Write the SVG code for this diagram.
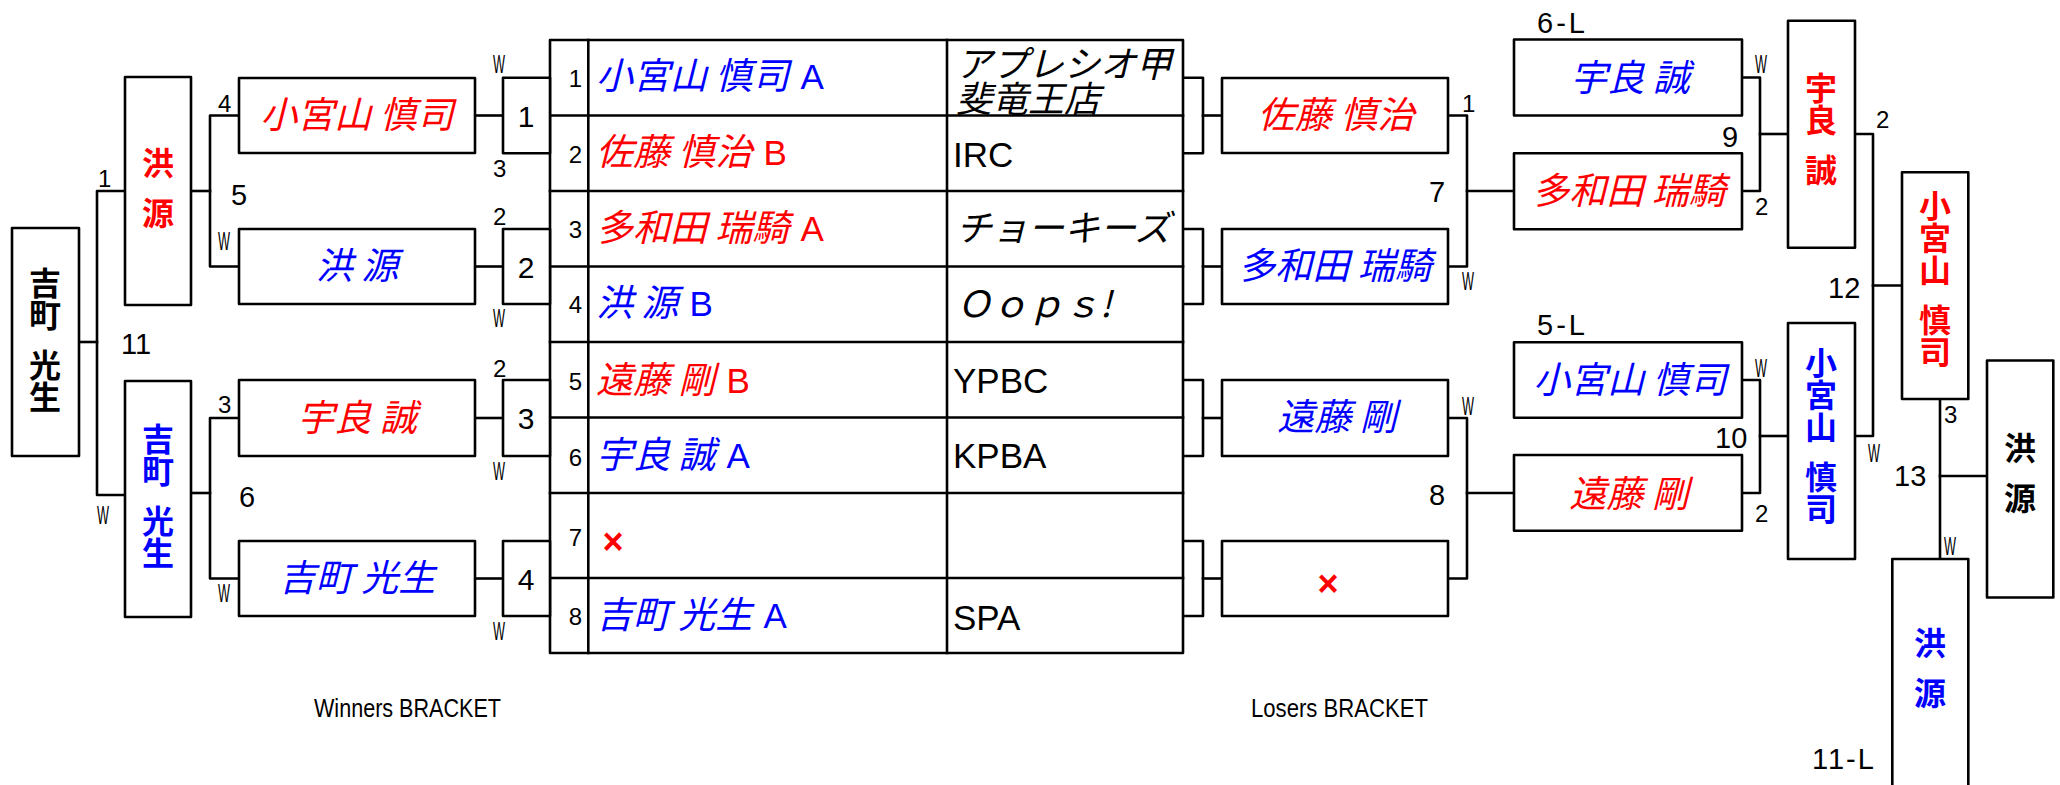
<svg xmlns="http://www.w3.org/2000/svg" width="2060" height="785" viewBox="0 0 2060 785">
<style>
.ln{stroke:#000;stroke-width:2.6;fill:none;stroke-linecap:square;stroke-linejoin:round}
.bx{fill:#fff;stroke:#000;stroke-width:2.6;stroke-linejoin:round}
.nm{font-family:"Noto Sans CJK JP",sans-serif;font-size:37px;font-style:italic;text-anchor:middle}
.tn{font-family:"Noto Sans CJK JP",sans-serif;font-size:37px;font-style:italic}
.lt{font-family:"Liberation Sans",Arial,sans-serif;font-style:normal;font-size:35px}
.tm{font-family:"Liberation Sans",Arial,sans-serif;font-size:35px;fill:#000}
.tj{font-family:"Noto Sans CJK JP",sans-serif;font-size:36px;font-style:italic;fill:#000}
.vt{font-family:"Noto Sans CJK JP",sans-serif;font-weight:bold;font-size:32px;writing-mode:vertical-rl;text-anchor:middle}
.sp{letter-spacing:11px}
.n{font-family:"Liberation Sans",Arial,sans-serif;font-size:24px;fill:#000}
.rn{font-family:"Liberation Sans",Arial,sans-serif;font-size:29px;fill:#000}
.bn{font-family:"Liberation Sans",Arial,sans-serif;font-size:30px;fill:#000;text-anchor:middle}
.w{font-family:"Liberation Sans Narrow","Liberation Sans",sans-serif;font-size:25px;fill:#000}
.cap{font-family:"Liberation Sans Narrow","Liberation Sans",sans-serif;font-size:26px;fill:#000}
.x{font-family:"Liberation Sans",Arial,sans-serif;font-size:36px;font-weight:bold;fill:#f00;text-anchor:middle}
.red{fill:#f00}
.blue{fill:#00f}
.blk{fill:#000}
</style>

<g id="connectors">
  <polyline class="ln" points="79,342 97,342"/>
  <polyline class="ln" points="125,191 97,191 97,495 125,495"/>
  <polyline class="ln" points="191,191 210,191"/>
  <polyline class="ln" points="239,115.5 210,115.5 210,266.5 239,266.5"/>
  <polyline class="ln" points="191,493 210,493"/>
  <polyline class="ln" points="239,418 210,418 210,578.5 239,578.5"/>
  <polyline class="ln" points="475,115.5 503,115.5"/>
  <polyline class="ln" points="475,266.5 503,266.5"/>
  <polyline class="ln" points="475,418 503,418"/>
  <polyline class="ln" points="475,578.5 503,578.5"/>
  <polyline class="ln" points="1183,77.7 1203,77.7 1203,153.3 1183,153.3"/>
  <polyline class="ln" points="1183,229 1203,229 1203,304 1183,304"/>
  <polyline class="ln" points="1183,380 1203,380 1203,456 1183,456"/>
  <polyline class="ln" points="1183,541 1203,541 1203,616 1183,616"/>
  <polyline class="ln" points="1203,115.5 1222,115.5"/>
  <polyline class="ln" points="1203,266.5 1222,266.5"/>
  <polyline class="ln" points="1203,418 1222,418"/>
  <polyline class="ln" points="1203,578.5 1222,578.5"/>
  <polyline class="ln" points="1448,115.5 1467,115.5 1467,266.5 1448,266.5"/>
  <polyline class="ln" points="1467,191 1514,191"/>
  <polyline class="ln" points="1448,418 1467,418 1467,578.5 1448,578.5"/>
  <polyline class="ln" points="1467,493 1514,493"/>
  <polyline class="ln" points="1742,77.5 1760,77.5 1760,191 1742,191"/>
  <polyline class="ln" points="1760,134 1788,134"/>
  <polyline class="ln" points="1742,380 1760,380 1760,493 1742,493"/>
  <polyline class="ln" points="1760,436 1788,436"/>
  <polyline class="ln" points="1855,134 1873,134 1873,436 1855,436"/>
  <polyline class="ln" points="1873,285.5 1902,285.5"/>
  <polyline class="ln" points="1940,399 1940,559"/>
  <polyline class="ln" points="1940,476 1987,476"/>
</g>

<g id="table">
  <rect class="bx" x="550" y="40" width="633" height="613"/>
  <line class="ln" x1="588.3" y1="40" x2="588.3" y2="653"/>
  <line class="ln" x1="947" y1="40" x2="947" y2="653"/>
  <line class="ln" x1="550" y1="115.5" x2="1183" y2="115.5"/>
  <line class="ln" x1="550" y1="191" x2="1183" y2="191"/>
  <line class="ln" x1="550" y1="266.5" x2="1183" y2="266.5"/>
  <line class="ln" x1="550" y1="342" x2="1183" y2="342"/>
  <line class="ln" x1="550" y1="417.5" x2="1183" y2="417.5"/>
  <line class="ln" x1="550" y1="493" x2="1183" y2="493"/>
  <line class="ln" x1="550" y1="578" x2="1183" y2="578"/>
  <g class="n" text-anchor="end">
    <text x="582" y="87">1</text>
    <text x="582" y="163">2</text>
    <text x="582" y="238">3</text>
    <text x="582" y="313">4</text>
    <text x="582" y="390">5</text>
    <text x="582" y="466">6</text>
    <text x="582" y="546">7</text>
    <text x="582" y="625">8</text>
  </g>
  <text class="tn blue" x="596" y="89">小宮山 慎司 <tspan class="lt" dx="3">A</tspan></text>
  <text class="tn red" x="596" y="165">佐藤 慎治 <tspan class="lt" dx="3">B</tspan></text>
  <text class="tn red" x="596" y="241">多和田 瑞騎 <tspan class="lt" dx="3">A</tspan></text>
  <text class="tn blue" x="596" y="316">洪 源 <tspan class="lt" dx="3">B</tspan></text>
  <text class="tn red" x="596" y="393">遠藤 剛 <tspan class="lt" dx="3">B</tspan></text>
  <text class="tn blue" x="596" y="468">宇良 誠 <tspan class="lt" dx="3">A</tspan></text>
  <text class="x" x="613" y="554">×</text>
  <text class="tn blue" x="596" y="628">吉町 光生 <tspan class="lt" dx="3">A</tspan></text>
  <text class="tj" x="956"><tspan x="956" y="77">アプレシオ甲</tspan><tspan x="956" y="112">斐竜王店</tspan></text>
  <text class="tm" x="953" y="167">IRC</text>
  <text class="tj" x="956" y="241">チョーキーズ</text>
  <text class="tj" x="956" y="317">Ｏｏｐｓ!</text>
  <text class="tm" x="953" y="393">YPBC</text>
  <text class="tm" x="953" y="468">KPBA</text>
  <text class="tm" x="953" y="630">SPA</text>
</g>

<g id="w-final">
  <rect class="bx" x="12" y="228" width="67" height="228"/>
  <text class="vt blk" x="45" y="340">吉町<tspan class="sp"> </tspan>光生</text>
</g>
<g id="w-semi-1">
  <rect class="bx" x="125" y="77" width="66" height="228"/>
  <text class="vt red" x="158" y="188">洪<tspan class="sp"> </tspan>源</text>
</g>
<g id="w-semi-2">
  <rect class="bx" x="125" y="381" width="66" height="236"/>
  <text class="vt blue" x="158" y="496">吉町<tspan class="sp"> </tspan>光生</text>
</g>
<g id="w-r1-1">
  <rect class="bx" x="239" y="78" width="236" height="75"/>
  <text class="nm red" x="357" y="128">小宮山 慎司</text>
</g>
<g id="w-r1-2">
  <rect class="bx" x="239" y="229" width="236" height="75"/>
  <text class="nm blue" x="357" y="279">洪 源</text>
</g>
<g id="w-r1-3">
  <rect class="bx" x="239" y="380" width="236" height="76"/>
  <text class="nm red" x="357" y="431">宇良 誠</text>
</g>
<g id="w-r1-4">
  <rect class="bx" x="239" y="541" width="236" height="75"/>
  <text class="nm blue" x="357" y="591">吉町 光生</text>
</g>
<g id="m1">
  <rect class="bx" x="503" y="77.7" width="47" height="75.6"/>
  <text class="bn" x="526" y="127">1</text>
</g>
<g id="m2">
  <rect class="bx" x="503" y="229" width="47" height="75"/>
  <text class="bn" x="526" y="278">2</text>
</g>
<g id="m3">
  <rect class="bx" x="503" y="380" width="47" height="76"/>
  <text class="bn" x="526" y="429">3</text>
</g>
<g id="m4">
  <rect class="bx" x="503" y="541" width="47" height="75"/>
  <text class="bn" x="526" y="590">4</text>
</g>

<g id="l-r1-1">
  <rect class="bx" x="1222" y="78" width="226" height="75"/>
  <text class="nm red" x="1336" y="128">佐藤 慎治</text>
</g>
<g id="l-r1-2">
  <rect class="bx" x="1222" y="229" width="226" height="75"/>
  <text class="nm blue" x="1335" y="279">多和田 瑞騎</text>
</g>
<g id="l-r1-3">
  <rect class="bx" x="1222" y="380" width="226" height="76"/>
  <text class="nm blue" x="1337" y="430">遠藤 剛</text>
</g>
<g id="l-r1-4">
  <rect class="bx" x="1222" y="541" width="226" height="75"/>
  <text class="x" x="1328" y="596">×</text>
</g>
<g id="l-r2-1">
  <rect class="bx" x="1514" y="39.5" width="228" height="76"/>
  <text class="nm blue" x="1630" y="91">宇良 誠</text>
</g>
<g id="l-r2-2">
  <rect class="bx" x="1514" y="153.3" width="228" height="76"/>
  <text class="nm red" x="1629" y="204">多和田 瑞騎</text>
</g>
<g id="l-r2-3">
  <rect class="bx" x="1514" y="342.3" width="228" height="75.4"/>
  <text class="nm blue" x="1630" y="393">小宮山 慎司</text>
</g>
<g id="l-r2-4">
  <rect class="bx" x="1514" y="455" width="228" height="75.7"/>
  <text class="nm red" x="1629" y="507">遠藤 剛</text>
</g>
<g id="l-r3-1">
  <rect class="bx" x="1788" y="20.7" width="67" height="227"/>
  <text class="vt red" x="1821" y="129">宇良<tspan class="sp"> </tspan>誠</text>
</g>
<g id="l-r3-2">
  <rect class="bx" x="1788" y="323" width="67" height="236"/>
  <text class="vt blue" x="1821" y="436">小宮山<tspan class="sp"> </tspan>慎司</text>
</g>
<g id="l-final">
  <rect class="bx" x="1902" y="172.3" width="66.3" height="226.7"/>
  <text class="vt red" x="1935" y="279">小宮山<tspan class="sp"> </tspan>慎司</text>
</g>
<g id="champion">
  <rect class="bx" x="1987" y="360.5" width="66.3" height="237"/>
  <text class="vt blk" x="2020" y="473">洪<tspan class="sp"> </tspan>源</text>
</g>
<g id="gf-loser">
  <rect class="bx" x="1892.3" y="559" width="76" height="240"/>
  <text class="vt blue" x="1930" y="668">洪<tspan class="sp"> </tspan>源</text>
</g>

<g id="labels">
  <text class="n" x="98" y="187">1</text>
  <text class="w" x="97" y="524" textLength="12" lengthAdjust="spacingAndGlyphs">W</text>
  <text class="rn" x="121" y="354">11</text>
  <text class="n" x="218" y="112">4</text>
  <text class="rn" x="231" y="205">5</text>
  <text class="w" x="218" y="250" textLength="12" lengthAdjust="spacingAndGlyphs">W</text>
  <text class="n" x="218" y="413">3</text>
  <text class="rn" x="239" y="507">6</text>
  <text class="w" x="218" y="602" textLength="12" lengthAdjust="spacingAndGlyphs">W</text>
  <text class="w" x="493" y="73" textLength="12" lengthAdjust="spacingAndGlyphs">W</text>
  <text class="n" x="493" y="177">3</text>
  <text class="n" x="493" y="225">2</text>
  <text class="w" x="493" y="327" textLength="12" lengthAdjust="spacingAndGlyphs">W</text>
  <text class="n" x="493" y="377">2</text>
  <text class="w" x="493" y="480" textLength="12" lengthAdjust="spacingAndGlyphs">W</text>
  <text class="w" x="493" y="640" textLength="12" lengthAdjust="spacingAndGlyphs">W</text>

  <text class="n" x="1462" y="112">1</text>
  <text class="w" x="1462" y="290" textLength="12" lengthAdjust="spacingAndGlyphs">W</text>
  <text class="rn" x="1429" y="202">7</text>
  <text class="w" x="1462" y="415" textLength="12" lengthAdjust="spacingAndGlyphs">W</text>
  <text class="rn" x="1429" y="505">8</text>
  <text class="rn" x="1537" y="33" letter-spacing="3">6-L</text>
  <text class="w" x="1755" y="73" textLength="12" lengthAdjust="spacingAndGlyphs">W</text>
  <text class="rn" x="1722" y="147">9</text>
  <text class="n" x="1755" y="215">2</text>
  <text class="rn" x="1537" y="335" letter-spacing="3">5-L</text>
  <text class="w" x="1755" y="377" textLength="12" lengthAdjust="spacingAndGlyphs">W</text>
  <text class="rn" x="1715" y="448">10</text>
  <text class="n" x="1755" y="522">2</text>
  <text class="n" x="1876" y="128">2</text>
  <text class="rn" x="1828" y="298">12</text>
  <text class="w" x="1868" y="462" textLength="12" lengthAdjust="spacingAndGlyphs">W</text>
  <text class="n" x="1944" y="423">3</text>
  <text class="rn" x="1894" y="486">13</text>
  <text class="w" x="1944" y="555" textLength="12" lengthAdjust="spacingAndGlyphs">W</text>
  <text class="rn" x="1812" y="769" letter-spacing="2">11-L</text>

  <text class="cap" x="314" y="717" textLength="187" lengthAdjust="spacingAndGlyphs">Winners BRACKET</text>
  <text class="cap" x="1251" y="717" textLength="177" lengthAdjust="spacingAndGlyphs">Losers BRACKET</text>
</g>
</svg>
